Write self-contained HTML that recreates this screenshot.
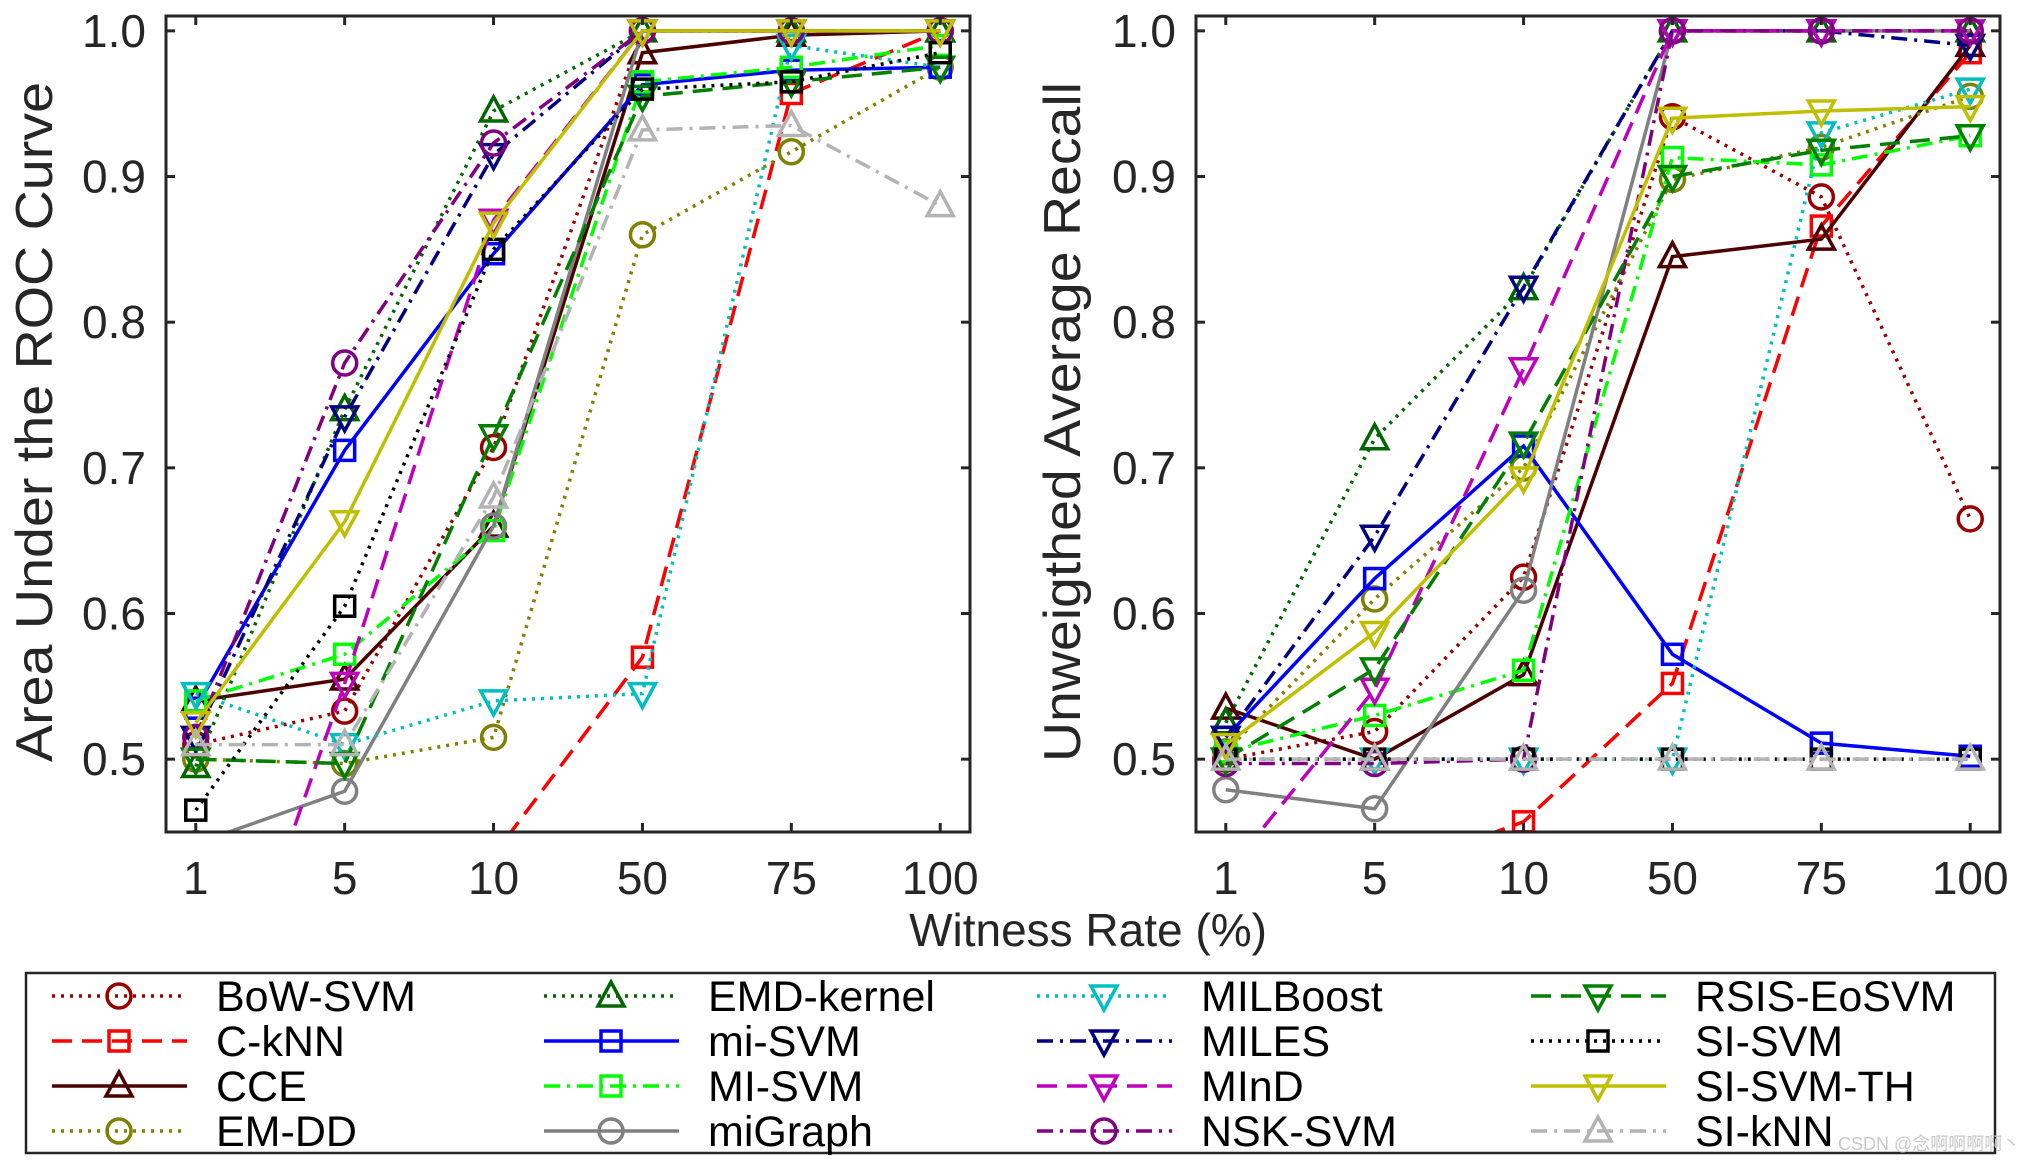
<!DOCTYPE html>
<html><head><meta charset="utf-8"><style>
html,body{margin:0;padding:0;background:#fff;}
svg{display:block;font-family:"Liberation Sans",sans-serif;}
</style></head><body>
<svg id="chart" width="2020" height="1165" viewBox="0 0 2020 1165" xmlns="http://www.w3.org/2000/svg">
<defs>
<clipPath id="clipL"><rect x="166" y="16" width="804" height="816"/></clipPath>
<clipPath id="clipR"><rect x="1196" y="16" width="804" height="816"/></clipPath>
</defs>
<g id="root"></g>
</svg>
<script>
const categories = ["1","5","10","50","75","100"];
const yTicks = [0.5,0.6,0.7,0.8,0.9,1.0];
const yTickLabels = ["0.5","0.6","0.7","0.8","0.9","1.0"];
const seriesNames = ["BoW-SVM","C-kNN","CCE","EM-DD","EMD-kernel","mi-SVM","MI-SVM","miGraph","MILBoost","MILES","MInD","NSK-SVM","RSIS-EoSVM","SI-SVM","SI-SVM-TH","SI-kNN"];
const aucValues = [
 [0.51,0.533,0.714,1.0,1.0,1.0],
 [0.38,0.40,0.434,0.57,0.957,1.0],
 [0.54,0.555,0.66,0.985,0.997,1.0],
 [0.50,0.497,0.515,0.86,0.917,0.975],
 [0.495,0.74,0.945,1.0,1.0,1.0],
 [0.535,0.712,0.847,0.963,0.973,0.975],
 [0.54,0.572,0.657,0.965,0.975,0.99],
 [0.442,0.478,0.66,1.0,1.0,1.0],
 [0.545,0.51,0.54,0.545,0.99,0.975],
 [0.515,0.735,0.915,1.0,1.0,1.0],
 [0.26,0.552,0.87,1.0,1.0,1.0],
 [0.515,0.772,0.923,1.0,1.0,1.0],
 [0.50,0.497,0.722,0.955,0.965,0.975],
 [0.465,0.605,0.85,0.96,0.965,0.985],
 [0.525,0.663,0.868,1.0,1.0,1.0],
 [0.51,0.51,0.68,0.932,0.935,0.88]
];
const uarValues = [
 [0.50,0.519,0.625,0.941,0.886,0.665],
 [0.40,0.42,0.457,0.552,0.866,0.985],
 [0.535,0.50,0.558,0.845,0.857,0.99],
 [0.505,0.61,0.70,0.898,0.92,0.955],
 [0.525,0.72,0.823,1.0,1.0,1.0],
 [0.515,0.624,0.715,0.572,0.511,0.502],
 [0.505,0.53,0.561,0.913,0.908,0.928],
 [0.479,0.466,0.616,1.0,1.0,1.0],
 [0.50,0.50,0.50,0.50,0.93,0.96],
 [0.515,0.653,0.824,1.0,1.0,0.99],
 [0.421,0.548,0.768,1.0,1.0,1.0],
 [0.497,0.497,0.50,1.0,1.0,1.0],
 [0.50,0.562,0.717,0.90,0.918,0.928],
 [0.50,0.50,0.50,0.50,0.50,0.50],
 [0.51,0.587,0.693,0.94,0.945,0.948],
 [0.50,0.50,0.50,0.50,0.50,0.50]
];
const seriesColors = ["#990000","#ff0000","#4d0000","#808000","#006600","#0000ff","#00ff00","#808080","#00bfbf","#000080","#bf00bf","#800080","#008000","#000000","#bfbf00","#b3b3b3"];
const seriesDash = ["dot","dash","solid","dot","dot","solid","dashdot","solid","dot","dashdot","dash","dashdot","dash","dot","solid","dashdot"];
const seriesMarker = ["circle","square","tri-up","circle","tri-up","square","square","circle","tri-down","tri-down","tri-down","circle","tri-down","square","tri-down","tri-up"];

const NS="http://www.w3.org/2000/svg";
const root=document.getElementById('root');
const dashMap={dot:"3,6",dash:"20,10",dashdot:"16,7,3,7",solid:"none"};
function mk(tag,attrs,parent){const e=document.createElementNS(NS,tag);for(const k in attrs)e.setAttribute(k,attrs[k]);(parent||root).appendChild(e);return e;}
const Y0=0.45,Y1=1.0102,TOP=16,BOT=832;
function yScale(v){return BOT-(v-Y0)/(Y1-Y0)*(BOT-TOP);}
function makeX(left,right){return i=>left+(i+1-0.8)/(6.2-0.8)*(right-left);}

function drawMarker(g,type,cx,cy,color){
  let e;
  if(type==="circle"){e=mk('circle',{cx:cx,cy:cy,r:12,fill:'none',stroke:color,'stroke-width':3.5},g);}
  else if(type==="square"){e=mk('rect',{x:cx-10,y:cy-10,width:20,height:20,fill:'none',stroke:color,'stroke-width':3.5},g);}
  else if(type==="tri-up"){e=mk('polygon',{points:`${cx},${cy-14} ${cx-13},${cy+10} ${cx+13},${cy+10}`,fill:'none',stroke:color,'stroke-width':3.5},g);}
  else {e=mk('polygon',{points:`${cx},${cy+14} ${cx-13},${cy-10} ${cx+13},${cy-10}`,fill:'none',stroke:color,'stroke-width':3.5},g);}
  return e;
}

function drawPanel(prefix,left,right,values,ylabel,ylabelX,clipId){
  const xS=makeX(left,right);
  const panel=mk('g',{});
  
  
  const plot=mk('g',{'clip-path':`url(#${clipId})`},panel);
  
  
  values.forEach((vals,si)=>{
    const sg=mk('g',{},plot);
    
    
    const pts=vals.map((v,i)=>xS(i)+','+yScale(v)).join(' ');
    const ln=mk('polyline',{points:pts,fill:'none',stroke:seriesColors[si],'stroke-width':3.5,'stroke-dasharray':dashMap[seriesDash[si]]},sg);
    
    
    vals.forEach((v,i)=>{
      const m=drawMarker(sg,seriesMarker[si],xS(i),yScale(v),seriesColors[si]);
      
      
    });
  });
  const ax=mk('g',{},panel);
  
  
  mk('rect',{x:left,y:TOP,width:right-left,height:BOT-TOP,fill:'none',stroke:'#262626','stroke-width':3},ax);
  categories.forEach((c,i)=>{
    const x=xS(i);
    mk('line',{x1:x,y1:BOT,x2:x,y2:BOT-9,stroke:'#262626','stroke-width':3},ax);
    mk('line',{x1:x,y1:TOP,x2:x,y2:TOP+9,stroke:'#262626','stroke-width':3},ax);
    const t=mk('text',{x:x,y:894,'text-anchor':'middle','font-size':46,fill:'#262626'},ax);
    t.textContent=c;
    
    
  });
  yTicks.forEach((v,i)=>{
    const y=yScale(v);
    mk('line',{x1:left,y1:y,x2:left+9,y2:y,stroke:'#262626','stroke-width':3},ax);
    mk('line',{x1:right,y1:y,x2:right-9,y2:y,stroke:'#262626','stroke-width':3},ax);
    const t=mk('text',{x:left-20,y:y+16,'text-anchor':'end','font-size':46,fill:'#262626'},ax);
    t.textContent=yTickLabels[i];
    
    
  });
  const yl=mk('text',{x:0,y:0,transform:`translate(${ylabelX},${(TOP+BOT)/2-2}) rotate(-90)`,'text-anchor':'middle','font-size':52,fill:'#262626',textLength:680,lengthAdjust:'spacingAndGlyphs'},ax);
  yl.textContent=ylabel;
  
  
}
drawPanel('auc',166,970,aucValues,'Area Under the ROC Curve',52,'clipL');
drawPanel('uar',1196,2000,uarValues,'Unweigthed Average Recall',1080,'clipR');

const xt=mk('text',{x:1088,y:946,'text-anchor':'middle','font-size':46,fill:'#262626'});
xt.textContent='Witness Rate (%)';



// legend
const lg=mk('g',{});


mk('rect',{x:26,y:973,width:1969,height:180,fill:'#fff',stroke:'#262626','stroke-width':2.5},lg);
const colX=[52,544,1037,1531];
const rowY=[996,1041,1086,1131];
seriesNames.forEach((n,si)=>{
  const c=Math.floor(si/4),r=si%4;
  const x0=colX[c],y=rowY[r];
  const e=mk('g',{},lg);
  
  
  mk('line',{x1:x0,y1:y,x2:x0+135,y2:y,stroke:seriesColors[si],'stroke-width':3.5,'stroke-dasharray':dashMap[seriesDash[si]]},e);
  drawMarker(e,seriesMarker[si],x0+67,y,seriesColors[si]);
  const t=mk('text',{x:x0+164,y:y+15,'font-size':43,fill:'#000'},e);
  t.textContent=n;
});
const wm=mk('text',{x:1838,y:1150,'font-size':18,fill:'#c8c8c8'});
wm.textContent='CSDN @念啊啊啊啊丶';


</script>
</body></html>
